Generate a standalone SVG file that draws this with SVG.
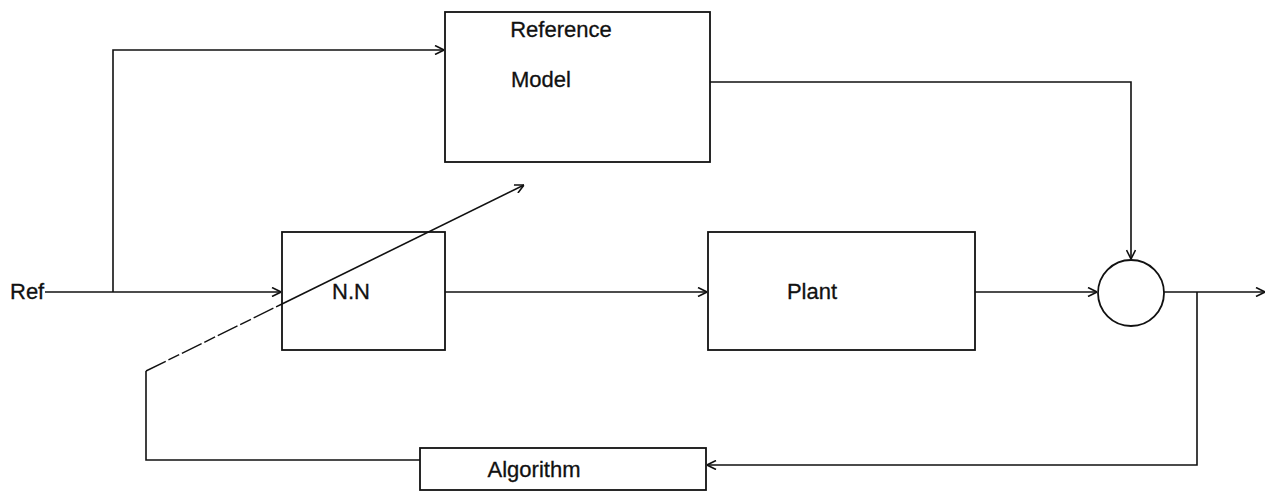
<svg xmlns="http://www.w3.org/2000/svg" width="1270" height="498" viewBox="0 0 1270 498">
<style>
.box{fill:none;stroke:#111;stroke-width:1.8}
.ln{fill:none;stroke:#111;stroke-width:1.6}
.dash{fill:none;stroke:#111;stroke-width:1.4;stroke-dasharray:22 3 12 3}
text{font-family:"Liberation Sans",Arial,sans-serif;font-size:22px;fill:#111;stroke:#111;stroke-width:0.3}
</style>
<defs>
<marker id="arr" viewBox="0 0 10 10" refX="10" refY="5" markerWidth="10" markerHeight="10" markerUnits="userSpaceOnUse" orient="auto">
<path d="M1,0.5 L10,5 L1,9.5" fill="none" stroke="#111" stroke-width="1.6"/>
</marker>
</defs>
<rect width="1270" height="498" fill="#fff"/>
<g id="ref-label"><text x="10" y="299">Ref</text></g>
<g id="reference-model">
<rect class="box" x="445" y="12" width="265" height="150"/>
<text x="561" y="37" text-anchor="middle">Reference</text>
<text x="541" y="87" text-anchor="middle">Model</text>
</g>
<g id="nn">
<rect class="box" x="282" y="232" width="163" height="118"/>
<text x="351" y="299" text-anchor="middle">N.N</text>
</g>
<g id="plant">
<rect class="box" x="708" y="232" width="267" height="118"/>
<text x="812" y="299" text-anchor="middle">Plant</text>
</g>
<g id="sum">
<circle class="box" cx="1131" cy="293" r="33"/>
</g>
<g id="algorithm">
<rect class="box" x="420" y="448" width="286" height="42"/>
<text x="534" y="477" text-anchor="middle">Algorithm</text>
</g>
<g id="connectors">
<path class="ln" d="M45,292 L281,292" marker-end="url(#arr)"/>
<path class="ln" d="M113,292 L113,50 L444,50" marker-end="url(#arr)"/>
<path class="ln" d="M445,292 L707,292" marker-end="url(#arr)"/>
<path class="ln" d="M975,292 L1097,292" marker-end="url(#arr)"/>
<path class="ln" d="M710,82 L1131,82 L1131,259" marker-end="url(#arr)"/>
<path class="ln" d="M1164,292 L1265,292" marker-end="url(#arr)"/>
<path class="ln" d="M1197,292 L1197,465 L707,465" marker-end="url(#arr)"/>
<path class="ln" d="M420,460 L146,460 L146,371"/>
<path class="dash" d="M146,371 L282,304"/>
<path class="ln" d="M282,304 L524,185" marker-end="url(#arr)"/>
</g>
</svg>
